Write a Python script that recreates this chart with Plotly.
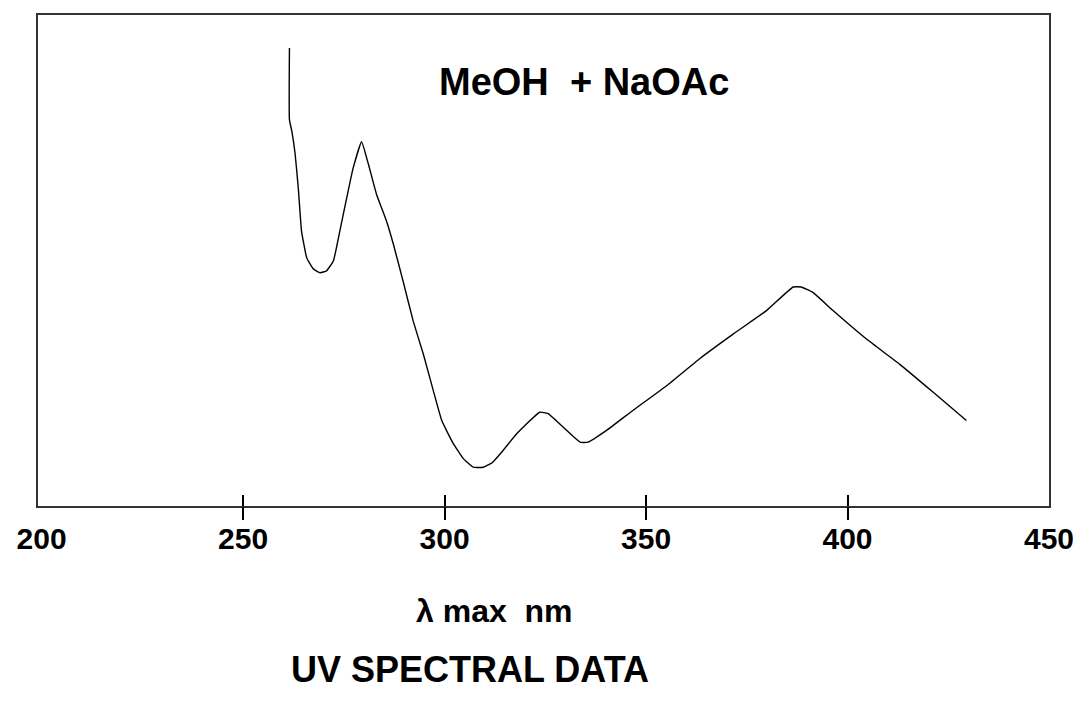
import plotly.graph_objects as go

# Wavelength (nm) and relative absorbance
wavelength = [261.5, 261.5, 262.1, 262.9, 263.7, 264.5, 265.8, 267.4, 269.1, 270.7,
              272.4, 274.0, 275.7, 277.3, 279.4, 281.1, 283.1, 285.6, 287.3, 289.7,
              292.2, 294.7, 297.2, 299.3, 302.1, 304.6, 307.1, 309.6, 311.8, 314.2,
              317.9, 323.6, 325.7, 333.6, 335.6, 340.2, 346.8, 355.1, 363.3, 371.6,
              379.9, 386.5, 388.5, 391.4, 396.4, 404.7, 412.9, 421.2, 429.5]
absorbance = [0.933, 0.787, 0.763, 0.718, 0.647, 0.560, 0.505, 0.483, 0.475, 0.479,
              0.499, 0.560, 0.627, 0.688, 0.742, 0.696, 0.635, 0.580, 0.533, 0.458,
              0.377, 0.310, 0.235, 0.174, 0.128, 0.097, 0.079, 0.079, 0.088, 0.110,
              0.147, 0.191, 0.188, 0.130, 0.130, 0.154, 0.195, 0.245, 0.300, 0.350,
              0.398, 0.446, 0.446, 0.435, 0.398, 0.340, 0.289, 0.232, 0.174]

tick_labels = [200, 250, 300, 350, 400, 450]
tick_marks = [250, 300, 350, 400]

title_text = "UV SPECTRAL DATA"
axis_text = "λ max\u00a0\u00a0nm"
solvent_text = "MeOH\u00a0\u00a0+ NaOAc"

FONT = "Liberation Sans, Arial, sans-serif"
XR = [199.1, 450.0]

fig = go.Figure()
fig.add_trace(go.Scatter(x=wavelength, y=absorbance, mode="lines",
                         line=dict(color="black", width=1.4, shape="spline", smoothing=0.35),
                         showlegend=False, hoverinfo="skip"))

# the page body adds an 8px offset, so the figure is sized/margined to compensate
fig.update_layout(
    width=1073, height=696,
    margin=dict(l=30, r=32, t=5, b=198),
    paper_bgcolor="white", plot_bgcolor="white",
    xaxis=dict(range=XR, tickvals=tick_labels, ticktext=[str(v) for v in tick_labels],
               ticks="outside", ticklen=5, tickcolor="rgba(0,0,0,0)",
               showgrid=False, zeroline=False,
               showline=True, mirror=True, linecolor="#333", linewidth=2,
               tickfont=dict(family=FONT, size=30, color="black", weight="bold")),
    xaxis2=dict(range=XR, overlaying="x", anchor="y", side="bottom",
                tickvals=tick_marks, ticks="outside", ticklen=13, tickwidth=1.5,
                tickcolor="black", showticklabels=False, showgrid=False,
                zeroline=False, showline=False),
    xaxis3=dict(range=XR, overlaying="x", anchor="y", side="bottom",
                tickvals=tick_marks, ticks="inside", ticklen=11, tickwidth=1.5,
                tickcolor="black", showticklabels=False, showgrid=False,
                zeroline=False, showline=False),
    yaxis=dict(range=[0, 1], showticklabels=False, ticks="", showgrid=False,
               zeroline=False, showline=True, mirror=True, linecolor="#333", linewidth=2),
)

# dummy traces to activate the overlay tick axes
fig.add_trace(go.Scatter(x=[None], y=[None], xaxis="x2", showlegend=False, hoverinfo="skip"))
fig.add_trace(go.Scatter(x=[None], y=[None], xaxis="x3", showlegend=False, hoverinfo="skip"))

fig.add_annotation(text=solvent_text, xref="paper", yref="paper", x=0.540, y=0.864,
                   xanchor="center", yanchor="middle", showarrow=False,
                   font=dict(family=FONT, size=38, color="black", weight="bold"))
fig.add_annotation(text=axis_text, xref="paper", yref="paper", x=0.452, y=-0.213,
                   xanchor="center", yanchor="middle", showarrow=False,
                   font=dict(family=FONT, size=32, color="black", weight="bold"))
fig.add_annotation(text=title_text, xref="paper", yref="paper", x=0.427, y=-0.333,
                   xanchor="center", yanchor="middle", showarrow=False,
                   font=dict(family=FONT, size=36, color="black", weight="bold"))

fig.write_html("out.html")
